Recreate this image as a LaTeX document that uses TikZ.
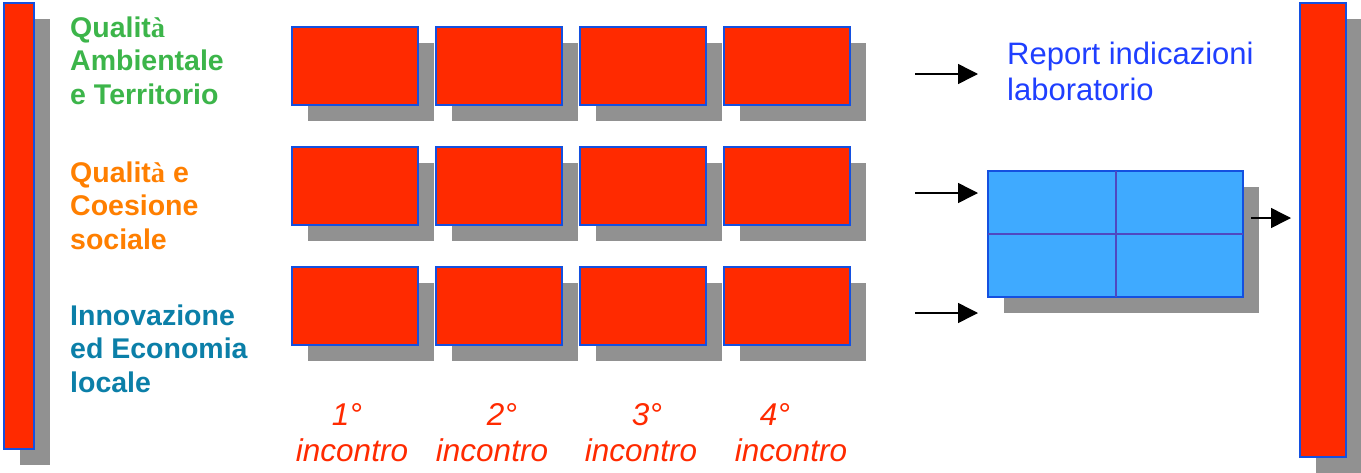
\documentclass[tikz,border=0pt]{standalone}
\usepackage{fontspec}
\setmainfont{Liberation Sans}
\newfontfamily\labserif{Liberation Serif}
\usetikzlibrary{arrows.meta,shadows}
\definecolor{labRed}{HTML}{FF2A00}
\definecolor{labEdge}{HTML}{1450E0}
\definecolor{labShade}{HTML}{919191}
\definecolor{labSky}{HTML}{3FAAFF}
\definecolor{labGrid}{HTML}{5048C0}
\definecolor{labGreen}{HTML}{3CB54A}
\definecolor{labOrange}{HTML}{FF7F00}
\definecolor{labTeal}{HTML}{0B7FA8}
\definecolor{labBlue}{HTML}{1F3FFF}
\tikzset{
  lab shadow/.style={drop shadow={shadow xshift=16pt, shadow yshift=-16pt, fill=labShade, opacity=1}},
  lab block/.style={rectangle, draw=labEdge, fill=labRed, line width=2pt, inner sep=0pt, lab shadow},
  lab panel/.style={rectangle, draw=labEdge, fill=labSky, line width=2pt, inner sep=0pt, lab shadow},
  lab theme/.style={anchor=north west, inner sep=0pt, align=left, font=\fontsize{28.5}{33.5}\selectfont\bfseries},
  lab step/.style={anchor=base, inner sep=0pt, text=labRed, font=\fontsize{31.5}{35}\selectfont\itshape},
  lab arrow/.style={draw=black, line width=1.5pt, -{Triangle[length=20pt,width=20pt]}},
}

\begin{document}
\begin{tikzpicture}[x=1pt,y=-1pt]
  \useasboundingbox (0,0) rectangle (1361,472);
  % Side pillars
  \node[lab block, minimum width=30pt, minimum height=446pt] (left) at (19,226) {};
  \node[lab block, minimum width=46pt, minimum height=454pt] (right) at (1323,230) {};
  % Three rows of four meetings
  \foreach \r in {0,1,2}
    \foreach \c in {0,...,3}
      \node[lab block, minimum width=126pt, minimum height=78pt] (blk\r\c) at ({355+144*\c},{66+120*\r}) {};
  % Summary panel split in four
  \node[lab panel, minimum width=255pt, minimum height=126pt] (pan) at (1115.5,234) {};
  \draw[labGrid, line width=2pt, shorten <=1pt, shorten >=1pt] (pan.north) -- (pan.south);
  \draw[labGrid, line width=2pt, shorten <=1pt, shorten >=1pt] (pan.west) -- (pan.east);
  % Themes
  \node[lab theme, text=labGreen] (amb) at (70,16.2) {Qualit{\labserif à}\\Ambientale\\e Territorio};
  \node[lab theme, text=labOrange] (coe) at (70,161.2) {Qualit{\labserif à} e\\Coesione\\sociale};
  \node[lab theme, text=labTeal] (inn) at (70,304.6) {Innovazione\\ed Economia\\locale};
  \node[anchor=north west, inner sep=0pt, align=left, text=labBlue, font=\fontsize{31}{36}\selectfont] (rep) at (1007,41.4) {Report indicazioni\\laboratorio};
  % Meeting numbers
  \foreach \n/\xa/\xb in {1/347/352, 2/502/492, 3/647/641, 4/775/791} {
    \node[lab step] (ord\n) at (\xa,425) {\n°};
    \node[lab step] (inc\n) at (\xb,461) {incontro};
  }
  % Arrows
  \coordinate (a1s) at (915,74);  \coordinate (a1e) at (978,74);
  \coordinate (a2s) at (915,193); \coordinate (a2e) at (978,193);
  \coordinate (a3s) at (915,313); \coordinate (a3e) at (978,313);
  \coordinate (a4s) at (1251,218); \coordinate (a4e) at (1291,218);
  \draw[lab arrow] (a1s) -- (a1e);
  \draw[lab arrow] (a2s) -- (a2e);
  \draw[lab arrow] (a3s) -- (a3e);
  \draw[lab arrow] (a4s) -- (a4e);
\end{tikzpicture}
\end{document}
